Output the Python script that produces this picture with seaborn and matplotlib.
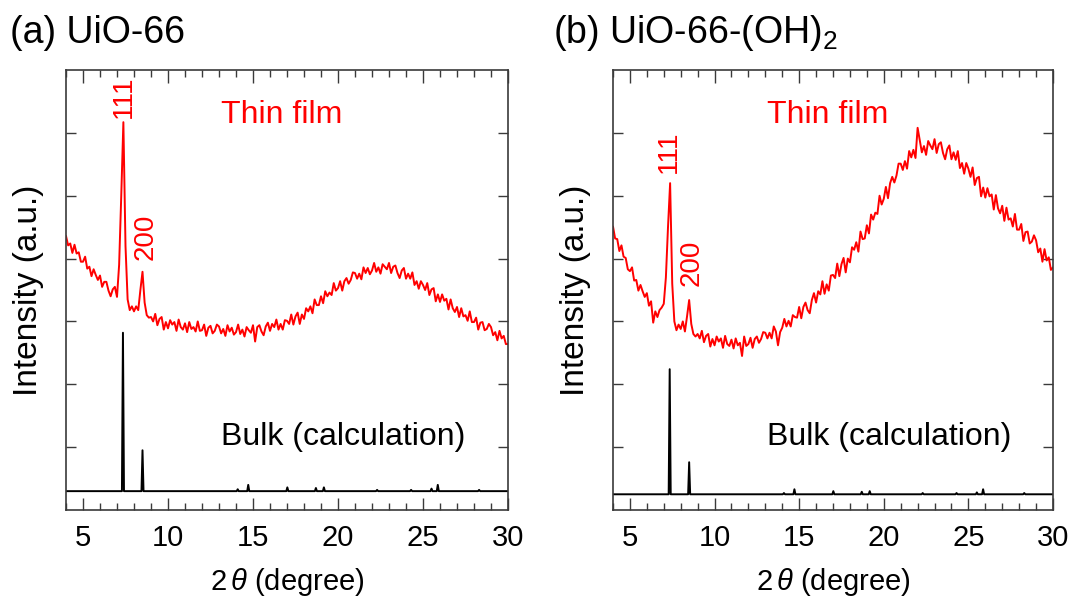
import numpy as np
import pandas as pd
import matplotlib
matplotlib.use("Agg")
import matplotlib.pyplot as plt
from matplotlib.ticker import MultipleLocator
import seaborn as sns

# 2theta grid of the measured thin-film patterns (0.125 deg step)
two_theta = np.arange(4.0, 30.0001, 0.125)

# (a) UiO-66 thin film (one row = 1 degree)
film_a = [
    4.36, 4.21, 4.24, 4.09, 4.22, 4.08, 4.10, 3.95,
    3.95, 4.03, 3.84, 3.87, 3.72, 3.83, 3.74, 3.66,
    3.73, 3.55, 3.63, 3.63, 3.49, 3.40, 3.51, 3.55,
    3.39, 3.90, 5.00, 6.17, 4.20, 3.35, 3.18, 3.24,
    3.16, 3.24, 3.18, 3.50, 3.79, 3.30, 3.10, 3.06,
    3.07, 3.00, 3.12, 2.94, 3.04, 3.07, 2.87, 2.99,
    2.89, 3.02, 2.95, 2.99, 2.85, 3.03, 2.91, 2.87,
    2.97, 2.83, 2.99, 2.88, 2.91, 2.84, 3.00, 2.85,
    2.86, 2.95, 2.77, 2.90, 2.93, 2.81, 2.85, 2.95,
    2.92, 2.81, 2.88, 2.77, 2.94, 2.84, 2.90, 2.79,
    2.83, 2.95, 2.80, 2.87, 2.76, 2.91, 2.86, 2.82,
    2.94, 2.68, 2.91, 2.94, 2.84, 2.78, 2.92, 2.98,
    2.85, 2.96, 2.91, 3.03, 2.87, 2.96, 2.87, 3.02,
    3.01, 2.96, 3.11, 2.95, 3.08, 3.14, 2.96, 3.11,
    3.04, 3.21, 3.16, 3.24, 3.13, 3.35, 3.26, 3.26,
    3.40, 3.29, 3.48, 3.40, 3.46, 3.42, 3.61, 3.49,
    3.53, 3.64, 3.49, 3.64, 3.69, 3.60, 3.66, 3.78,
    3.77, 3.68, 3.76, 3.67, 3.86, 3.77, 3.85, 3.75,
    3.81, 3.93, 3.79, 3.86, 3.76, 3.91, 3.87, 3.83,
    3.93, 3.77, 3.87, 3.89, 3.77, 3.69, 3.81, 3.85,
    3.68, 3.76, 3.68, 3.78, 3.58, 3.64, 3.52, 3.64,
    3.58, 3.50, 3.61, 3.42, 3.51, 3.53, 3.32, 3.43,
    3.31, 3.43, 3.33, 3.36, 3.19, 3.35, 3.21, 3.15,
    3.23, 3.07, 3.21, 3.08, 3.10, 3.01, 3.16, 2.99,
    2.99, 3.06, 2.87, 2.98, 2.99, 2.86, 2.88, 2.96,
    2.91, 2.78, 2.83, 2.70, 2.85, 2.73, 2.77, 2.64,
    2.64,
]

# (b) UiO-66-(OH)2 thin film
film_b = [
    4.51, 4.32, 4.31, 4.12, 4.21, 4.03, 4.01, 3.83,
    3.80, 3.86, 3.65, 3.66, 3.49, 3.58, 3.48, 3.39,
    3.45, 3.25, 3.32, 2.98, 3.16, 3.07, 3.18, 3.22,
    3.28, 3.70, 4.50, 5.20, 3.60, 3.00, 2.86, 2.95,
    2.88, 3.00, 2.84, 3.08, 3.34, 2.96, 2.80, 2.76,
    2.80, 2.73, 2.85, 2.67, 2.77, 2.80, 2.60, 2.72,
    2.62, 2.76, 2.68, 2.73, 2.58, 2.77, 2.64, 2.61,
    2.71, 2.57, 2.73, 2.62, 2.66, 2.45, 2.76, 2.61,
    2.64, 2.74, 2.58, 2.72, 2.76, 2.66, 2.72, 2.83,
    2.82, 2.73, 2.82, 2.73, 2.92, 2.84, 2.62, 2.83,
    2.90, 3.04, 2.92, 3.01, 2.92, 3.10, 3.07, 3.06,
    3.23, 3.05, 3.23, 3.30, 3.18, 3.13, 3.34, 3.45,
    3.30, 3.48, 3.43, 3.64, 3.44, 3.59, 3.49, 3.73,
    3.74, 3.69, 3.92, 3.72, 3.91, 4.01, 3.78, 4.00,
    3.94, 4.18, 4.14, 4.26, 4.11, 4.43, 4.31, 4.32,
    4.53, 4.40, 4.70, 4.62, 4.73, 4.71, 5.00, 4.86,
    4.95, 5.14, 4.96, 5.20, 5.30, 5.21, 5.32, 5.51,
    5.51, 5.41, 5.55, 5.43, 5.71, 5.61, 5.73, 5.60,
    6.08, 5.88, 5.69, 5.79, 5.65, 5.87, 5.80, 5.74,
    5.90, 5.68, 5.82, 5.85, 5.68, 5.58, 5.74, 5.80,
    5.58, 5.69, 5.57, 5.71, 5.44, 5.52, 5.35, 5.52,
    5.43, 5.30, 5.45, 5.17, 5.28, 5.30, 4.99, 5.13,
    4.97, 5.12, 4.99, 5.02, 4.78, 5.01, 4.80, 4.72,
    4.84, 4.60, 4.81, 4.62, 4.64, 4.51, 4.71, 4.46,
    4.46, 4.55, 4.28, 4.42, 4.43, 4.24, 4.27, 4.37,
    4.29, 4.10, 4.16, 3.95, 4.15, 3.97, 4.02, 3.82,
    3.86,
]

# calculated bulk patterns: peak positions and heights above the baseline
peak_pos = [7.35, 8.5, 14.1, 14.72, 17.02, 18.7, 19.17, 22.3, 24.3, 25.5, 25.87, 28.3]
bulk_a_h = [2.52, 0.65, 0.03, 0.10, 0.06, 0.05, 0.06, 0.02, 0.02, 0.04, 0.10, 0.02]
bulk_b_h = [1.99, 0.51, 0.02, 0.08, 0.05, 0.04, 0.05, 0.02, 0.02, 0.03, 0.08, 0.02]
bulk_a_base = 0.30
bulk_b_base = 0.25

panel_titles = ["(a) UiO-66", "(b) UiO-66-(OH)$_2$"]


def stick_pattern(pos, heights, base, w=0.06):
    # narrow triangle for each calculated reflection on a flat baseline
    xs, ys = [4.0], [base]
    for p, h in zip(pos, heights):
        xs += [p - w, p, p + w]
        ys += [base, base + h, base]
    xs.append(30.0)
    ys.append(base)
    return pd.DataFrame({"x": xs, "y": ys})


sns.set_theme(style="ticks")
plt.rcParams["font.family"] = ["Liberation Sans", "DejaVu Sans"]
plt.rcParams["mathtext.fontset"] = "custom"
plt.rcParams["mathtext.rm"] = "Liberation Sans"
plt.rcParams["mathtext.it"] = "Liberation Sans:italic"
plt.rcParams["text.color"] = "black"
plt.rcParams["axes.labelcolor"] = "black"

fig = plt.figure(figsize=(10.71, 5.99), dpi=100)
ax_a = fig.add_axes([66 / 1071, 89 / 599, 442 / 1071, 440 / 599])
ax_b = fig.add_axes([613 / 1071, 89 / 599, 440 / 1071, 440 / 599])

panels = [
    (ax_a, film_a, bulk_a_h, bulk_a_base, (7.4, 6.58), (8.7, 4.34)),
    (ax_b, film_b, bulk_b_h, bulk_b_base, (7.3, 5.70), (8.65, 3.93)),
]

spine_col = "#3a3a3a"
for ax, film, bulk_h, base, pos111, pos200 in panels:
    df_film = pd.DataFrame({"x": two_theta, "y": film})
    sns.lineplot(data=df_film, x="x", y="y", ax=ax, color="#ff0000",
                 linewidth=1.4, estimator=None, sort=False)
    df_bulk = stick_pattern(peak_pos, bulk_h, base)
    sns.lineplot(data=df_bulk, x="x", y="y", ax=ax, color="black",
                 linewidth=1.4, estimator=None, sort=False)

    ax.set_xlim(4, 30)
    ax.set_ylim(0, 7)
    ax.xaxis.set_major_locator(MultipleLocator(5))
    ax.xaxis.set_minor_locator(MultipleLocator(1))
    ax.set_yticks([1, 2, 3, 4, 5, 6])
    ax.set_yticklabels([])
    ax.tick_params(axis="both", which="both", direction="in", top=True,
                   right=True, colors=spine_col)
    ax.tick_params(axis="x", which="major", length=9, width=1.0,
                   labelsize=21, pad=10, labelcolor="black")
    ax.tick_params(axis="x", which="minor", length=5, width=1.0)
    ax.tick_params(axis="y", which="major", length=7, width=1.0)
    for s in ax.spines.values():
        s.set_color(spine_col)
        s.set_linewidth(1.2)

    ax.set_xlabel(r"2$\,\theta$ (degree)", fontsize=21, labelpad=10)
    ax.set_ylabel("Intensity (a.u.)", fontsize=24, labelpad=12)

    ax.text(16.7, 6.28, "Thin film", color="#ff0000", fontsize=23,
            ha="center", va="center")
    ax.text(20.3, 1.03, "Bulk (calculation)", color="black", fontsize=23,
            ha="center", va="baseline")
    ax.text(pos111[0], pos111[1], "111", color="#ff0000", fontsize=20,
            rotation=90, ha="center", va="center")
    ax.text(pos200[0], pos200[1], "200", color="#ff0000", fontsize=20,
            rotation=90, ha="center", va="center")

fig.text(10 / 1071, 1 - 43 / 599, panel_titles[0], fontsize=27, va="baseline")
fig.text(553 / 1071, 1 - 43 / 599, panel_titles[1], fontsize=27, va="baseline")

fig.savefig("out.png", dpi=100)
